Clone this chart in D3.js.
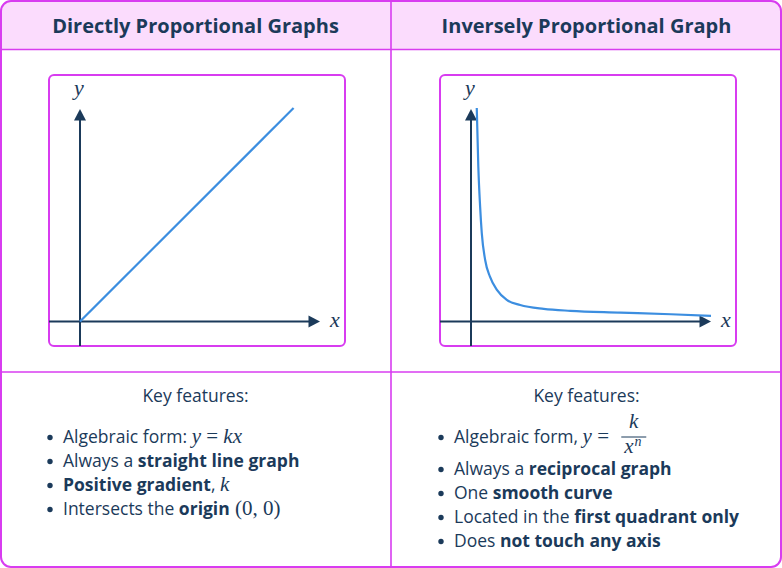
<!DOCTYPE html>
<html>
<head>
<meta charset="utf-8">
<script src="https://cdn.jsdelivr.net/npm/d3@7"></script>
<style>
  body { margin: 0; background: #fff; }
  svg { display: block; font-family: "Open Sans", "Noto Sans", sans-serif; }
</style>
</head>
<body>
<div id="chart"></div>
<script>
////////////////////////////////////////////////////////////////////
////////////////////////////  Data  ////////////////////////////////
const titles = ["Directly Proportional Graphs", "Inversely Proportional Graph"];

// straight line through the origin
const directX = [0, 89];
const directY = [0, 100];

// reciprocal curve (axis units 0-100)
const inverseX = [2.4, 3.05, 3.8, 4.5, 5.9, 7.9, 10.8, 14.9, 20.5, 30.3, 41.4, 62.3, 83.3, 100];
const inverseY = [100, 72.5, 53.8, 41.3, 28.8, 21, 14.8, 10.1, 7.7, 5.9, 5.0, 4.2, 3.4, 2.6];

const featureTitle = "Key features:";

// segments: n = normal, b = bold, mi = math italic, m = math upright, frac = fraction
const directFeatures = [
  [["Algebraic form: ", "n"], ["y", "mi"], [" = ", "m"], ["kx", "mi"]],
  [["Always a ", "n"], ["straight line graph", "b"]],
  [["Positive gradient", "b"], [", ", "n"], ["k", "mi"]],
  [["Intersects the ", "n"], ["origin", "b"], [" (0, 0)", "m"]],
];
const inverseFeatures = [
  [["Algebraic form, ", "n"], ["y", "mi"], [" = ", "m"], [["k", "x", "n"], "frac"]],
  [["Always a ", "n"], ["reciprocal graph", "b"]],
  [["One ", "n"], ["smooth curve", "b"]],
  [["Located in the ", "n"], ["first quadrant only", "b"]],
  [["Does ", "n"], ["not touch any axis", "b"]],
];

////////////////////////////////////////////////////////////////////
////////////////////////////  Init  ////////////////////////////////
const width = 782;
const height = 568;
const headerH = 49.5;
const splitY = 372;
const midX = 391;

const navy = "#1b3a5a";
const magenta = "#d83cf0";
const blue = "#3c8ee0";
const mathFont = "'Liberation Serif', 'DejaVu Serif', serif";
const bodySize = 17.5;
const mathSize = 21;

const svg = d3
  .select("#chart")
  .append("svg")
  .attr("width", width)
  .attr("height", height);

svg
  .append("clipPath")
  .attr("id", "outer-clip")
  .append("rect")
  .attr("x", 1)
  .attr("y", 1)
  .attr("width", width - 2)
  .attr("height", height - 2)
  .attr("rx", 10);

// header band
svg
  .append("rect")
  .attr("clip-path", "url(#outer-clip)")
  .attr("x", 0)
  .attr("y", 0)
  .attr("width", width)
  .attr("height", headerH)
  .attr("fill", "#fbdcfd");

// dividers
svg
  .append("g")
  .attr("stroke", magenta)
  .attr("stroke-width", 1.6)
  .selectAll("line")
  .data([
    [1, headerH, width - 1, headerH],
    [1, splitY, width - 1, splitY],
    [midX, 1, midX, height - 1],
  ])
  .join("line")
  .attr("x1", (d) => d[0])
  .attr("y1", (d) => d[1])
  .attr("x2", (d) => d[2])
  .attr("y2", (d) => d[3]);

// outer frame
svg
  .append("rect")
  .attr("x", 1)
  .attr("y", 1)
  .attr("width", width - 2)
  .attr("height", height - 2)
  .attr("rx", 10)
  .attr("fill", "none")
  .attr("stroke", magenta)
  .attr("stroke-width", 2);

////////////////////////////////////////////////////////////////////
////////////////////////////  Panels  //////////////////////////////
function drawPanel(x0, title, xs, ys, curve, features) {
  const g = svg.append("g");
  const cx = x0 + midX / 2;

  g.append("text")
    .attr("x", cx)
    .attr("y", 33)
    .attr("text-anchor", "middle")
    .attr("font-size", 20)
    .attr("font-weight", 700)
    .attr("fill", navy)
    .text(title);

  // graph box
  const box = { x: x0 + 49, y: 75, w: 296, h: 271 };
  g.append("rect")
    .attr("x", box.x)
    .attr("y", box.y)
    .attr("width", box.w)
    .attr("height", box.h)
    .attr("rx", 5)
    .attr("fill", "#fff")
    .attr("stroke", magenta)
    .attr("stroke-width", 2);

  const xScale = d3.scaleLinear().domain([0, 100]).range([x0 + 80, x0 + 320]);
  const yScale = d3.scaleLinear().domain([0, 100]).range([321.5, 108]);

  const ox = xScale(0);
  const oy = yScale(0);
  const tipX = xScale(100);
  const tipY = yScale(100) + 1;
  const head = 11.5;

  // axes
  g.append("line")
    .attr("x1", box.x)
    .attr("x2", tipX - head + 1)
    .attr("y1", oy)
    .attr("y2", oy)
    .attr("stroke", navy)
    .attr("stroke-width", 2);
  g.append("line")
    .attr("x1", ox)
    .attr("x2", ox)
    .attr("y1", box.y + box.h)
    .attr("y2", tipY + head - 1)
    .attr("stroke", navy)
    .attr("stroke-width", 2);
  g.append("path")
    .attr("d", `M${tipX},${oy}L${tipX - head},${oy - 6}L${tipX - head},${oy + 6}Z`)
    .attr("fill", navy);
  g.append("path")
    .attr("d", `M${ox},${tipY}L${ox - 6},${tipY + head}L${ox + 6},${tipY + head}Z`)
    .attr("fill", navy);

  g.append("text")
    .attr("x", tipX + 10)
    .attr("y", oy + 5)
    .attr("font-family", mathFont)
    .attr("font-style", "italic")
    .attr("font-size", 22)
    .attr("fill", navy)
    .text("x");
  g.append("text")
    .attr("x", ox - 1)
    .attr("y", tipY - 14)
    .attr("text-anchor", "middle")
    .attr("font-family", mathFont)
    .attr("font-style", "italic")
    .attr("font-size", 22)
    .attr("fill", navy)
    .text("y");

  const points = xs.map((x, i) => [x, ys[i]]);
  const line = d3
    .line()
    .x((d) => xScale(d[0]))
    .y((d) => yScale(d[1]))
    .curve(curve);

  g.append("path")
    .datum(points)
    .attr("d", line)
    .attr("fill", "none")
    .attr("stroke", blue)
    .attr("stroke-width", 2.2);

  // key features
  g.append("text")
    .attr("x", cx)
    .attr("y", 402)
    .attr("text-anchor", "middle")
    .attr("font-size", bodySize)
    .attr("fill", navy)
    .text(featureTitle);

  let baseline = 443;
  features.forEach((segs) => {
    const hasFrac = segs.some((s) => s[1] === "frac");

    g.append("circle")
      .attr("cx", x0 + 50)
      .attr("cy", baseline - 5.5)
      .attr("r", 2.7)
      .attr("fill", navy);

    const t = g
      .append("text")
      .attr("x", x0 + 63)
      .attr("y", baseline)
      .attr("font-size", bodySize)
      .attr("fill", navy);

    segs
      .filter((s) => s[1] !== "frac")
      .forEach(([txt, style]) => {
        const ts = t.append("tspan").text(txt).style("white-space", "pre");
        if (style === "b") ts.attr("font-weight", 700);
        if (style === "mi" || style === "m") {
          ts.attr("font-family", mathFont).attr("font-size", mathSize);
          if (style === "mi") ts.attr("font-style", "italic");
        }
      });

    if (hasFrac) {
      const [num, den, sup] = segs.find((s) => s[1] === "frac")[0];
      const fx = x0 + 63 + t.node().getComputedTextLength() + 7;
      const barW = 25;
      g.append("line")
        .attr("x1", fx)
        .attr("x2", fx + barW)
        .attr("y1", baseline - 6)
        .attr("y2", baseline - 6)
        .attr("stroke", navy)
        .attr("stroke-width", 1);
      g.append("text")
        .attr("x", fx + barW / 2)
        .attr("y", baseline - 15)
        .attr("text-anchor", "middle")
        .attr("font-family", mathFont)
        .attr("font-style", "italic")
        .attr("font-size", mathSize)
        .attr("fill", navy)
        .text(num);
      const d = g
        .append("text")
        .attr("x", fx + 3)
        .attr("y", baseline + 10)
        .attr("font-family", mathFont)
        .attr("font-style", "italic")
        .attr("font-size", mathSize)
        .attr("fill", navy);
      d.append("tspan").text(den);
      d.append("tspan").attr("font-size", 14).attr("dy", -7).attr("dx", 1).text(sup);
      baseline += 32;
    } else {
      baseline += 24;
    }
  });
}

drawPanel(0, titles[0], directX, directY, d3.curveLinear, directFeatures);
drawPanel(midX, titles[1], inverseX, inverseY, d3.curveMonotoneX, inverseFeatures);
</script>
</body>
</html>
